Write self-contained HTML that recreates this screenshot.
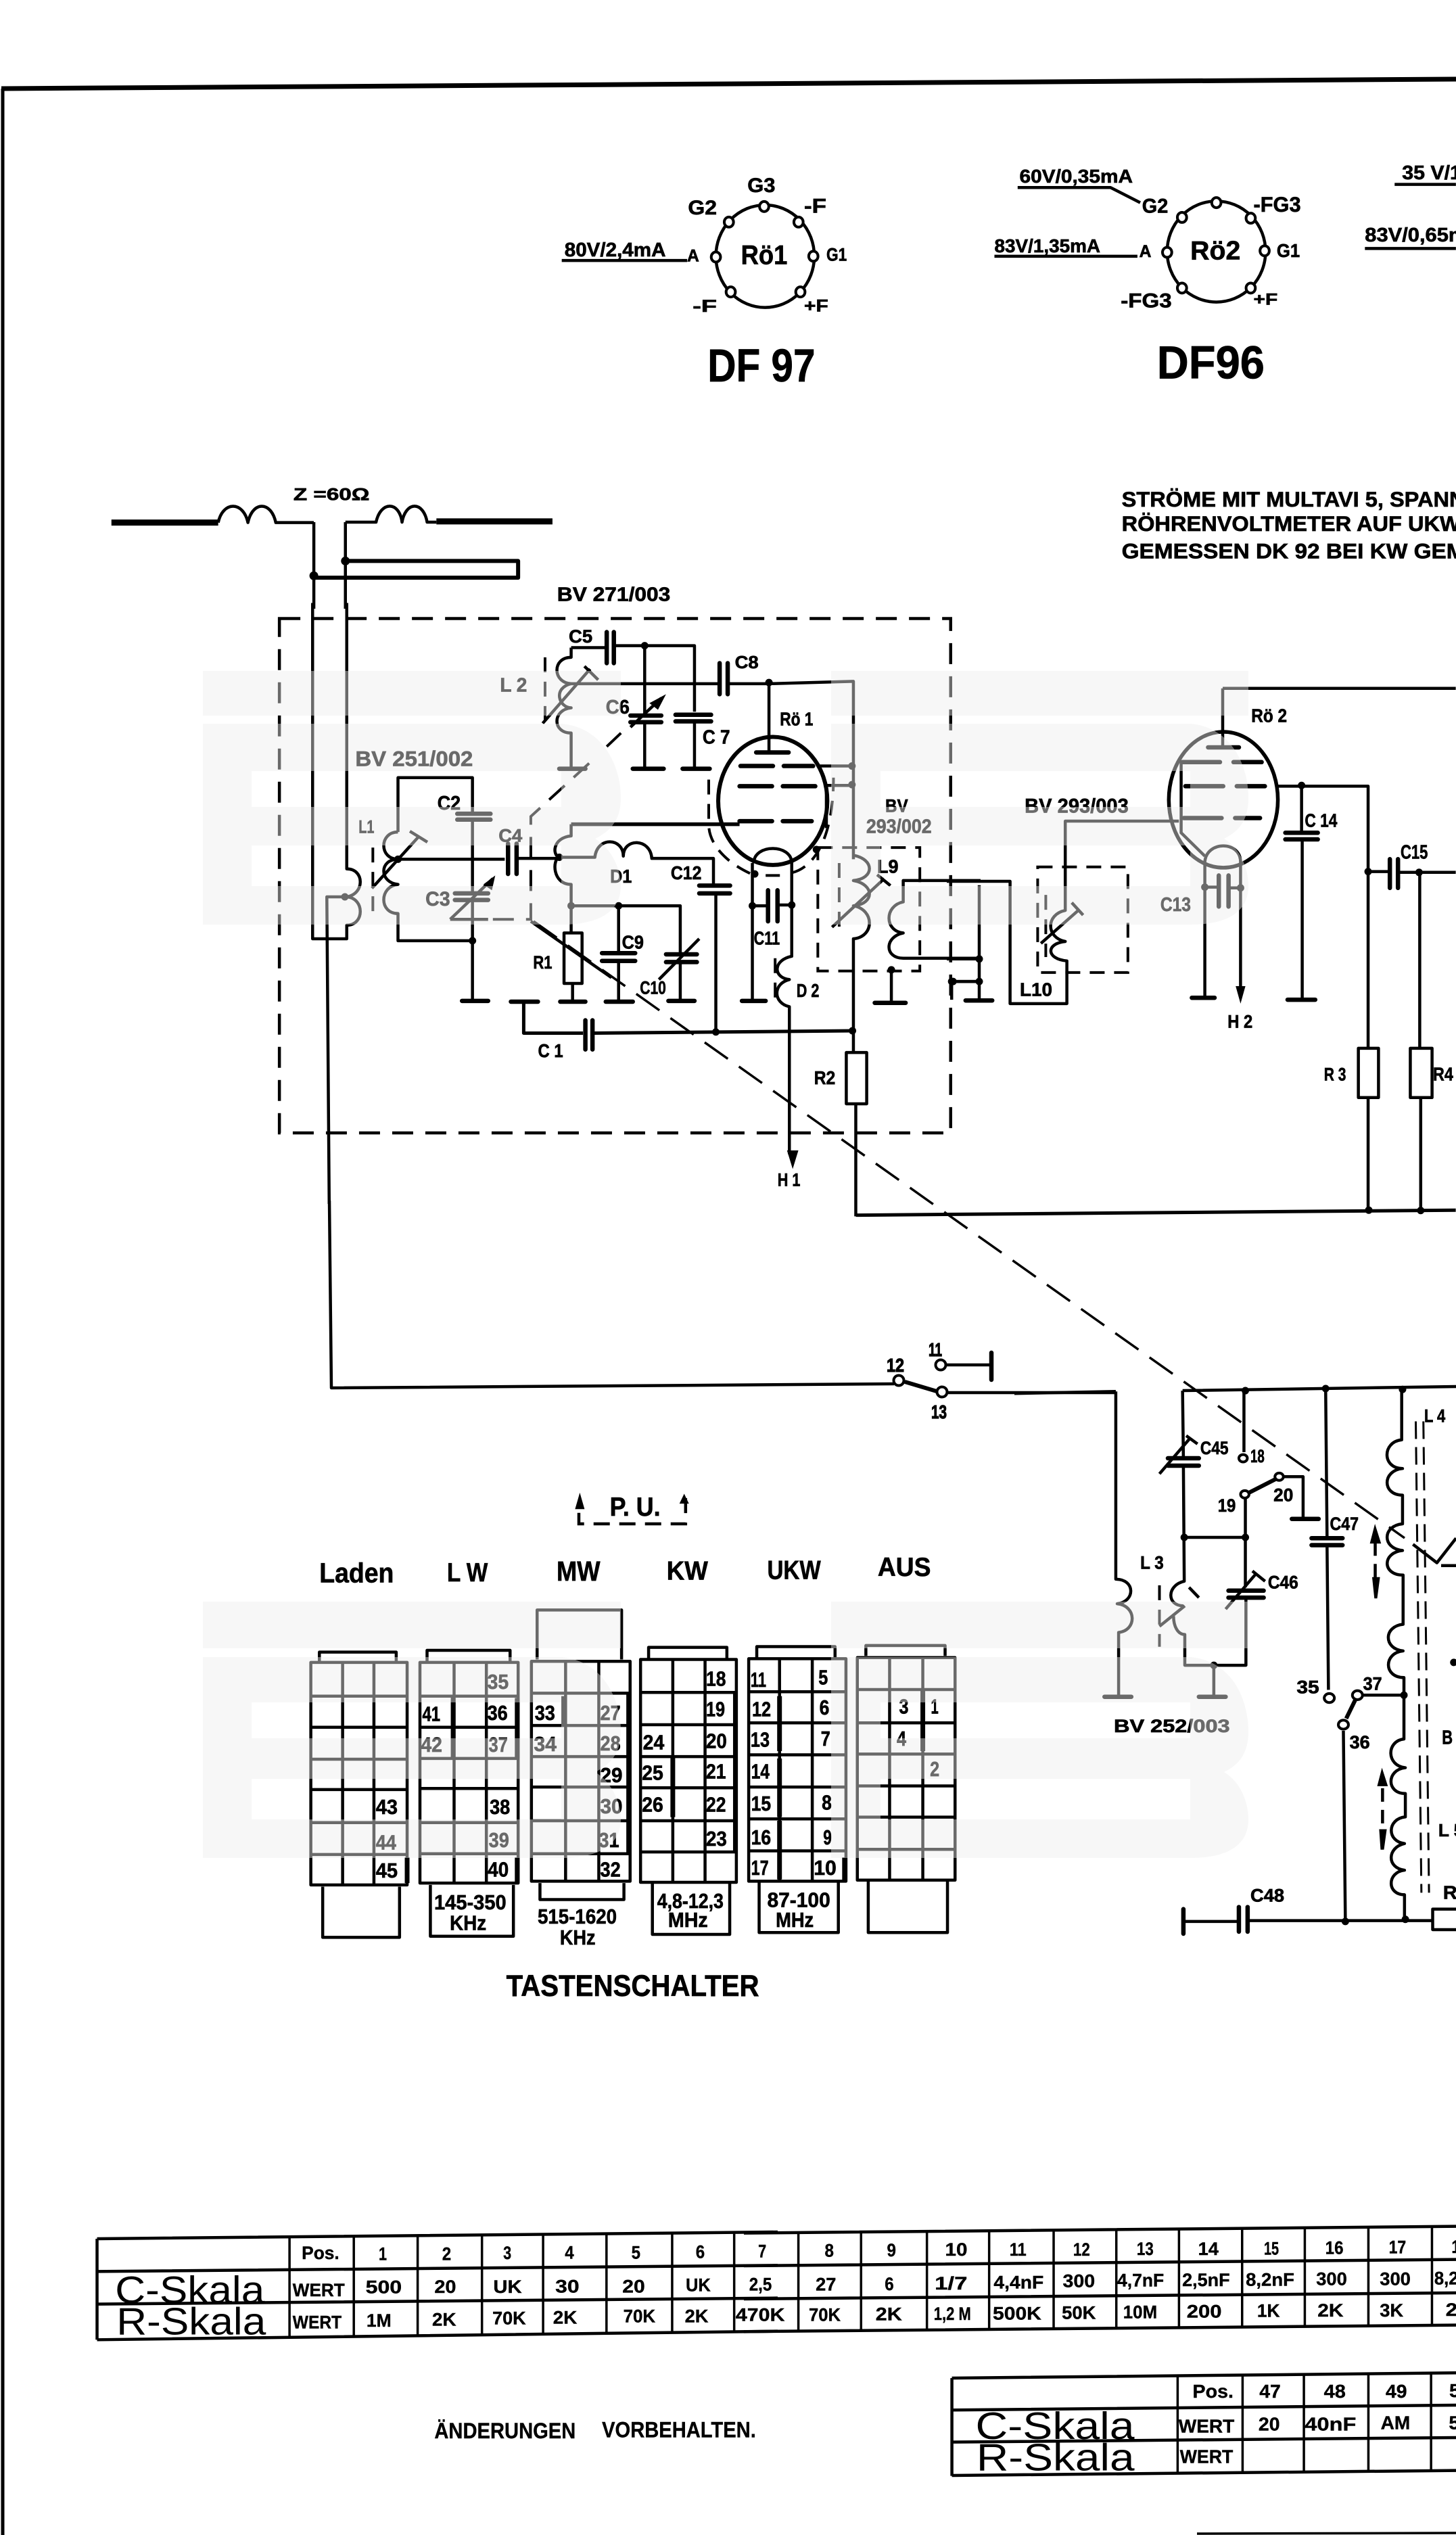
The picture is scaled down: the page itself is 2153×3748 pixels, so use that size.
<!DOCTYPE html>
<html><head><meta charset="utf-8"><title>Schaltbild</title>
<style>
html,body{margin:0;padding:0;background:#fff}
svg{display:block;font-family:"Liberation Sans",sans-serif;font-weight:bold;fill:#000}
text{stroke:#000;stroke-width:1.2}
text.r{stroke:none}
path,rect,ellipse,line{vector-effect:non-scaling-stroke}
.l{fill:none;stroke:#000;stroke-width:4.5;stroke-linejoin:round}
.n{fill:none;stroke:#000;stroke-width:3.5}
.k{fill:none;stroke:#000;stroke-width:9;stroke-linejoin:round}
.p{fill:none;stroke:#000;stroke-width:6.5;stroke-linecap:round}
.d{fill:none;stroke:#000;stroke-width:4.5;stroke-dasharray:31 18}
.e{fill:none;stroke:#000;stroke-width:4;stroke-dasharray:22 14}
.s{fill:none;stroke:#000;stroke-width:3;stroke-dasharray:26 12}
.o{fill:none;stroke:#000;stroke-width:13;stroke-linecap:round}
.c{fill:#fff;stroke:#000;stroke-width:4}
.f{fill:#000;stroke:none}
.r{font-weight:normal}
</style></head><body>
<svg xmlns="http://www.w3.org/2000/svg" width="2153" height="3748" viewBox="0 0 2153 3748">
<rect width="2153" height="3748" fill="#fff"/>

<!-- page frame -->
<path class="k" d="M2 131L2153 117" style="stroke-width:7"/>
<path class="l" d="M4 131V3748" style="stroke-width:5"/>
<path class="n" d="M1770 3746L2153 3745"/>

<!-- long dashed tuning link -->
<path class="l" style="stroke-dasharray:42 20;stroke-width:3.5" d="M789 1362L2077 2274"/>

<!-- heading zone -->
<g transform="scale(1.373,.574)" style="stroke-width:.7">
<ellipse class="l" cx="824" cy="660" rx="53" ry="132"/>
<ellipse class="l" cx="1310" cy="648" rx="53" ry="130"/>
<g class="c">
<ellipse cx="823" cy="532" rx="5" ry="13"/><ellipse cx="860" cy="572" rx="5" ry="13"/><ellipse cx="876" cy="660" rx="5" ry="13"/><ellipse cx="862" cy="752" rx="5" ry="13"/><ellipse cx="787" cy="752" rx="5" ry="13"/><ellipse cx="771" cy="662" rx="5" ry="13"/><ellipse cx="785" cy="572" rx="5" ry="13"/>
<ellipse cx="1310" cy="522" rx="5" ry="13"/><ellipse cx="1347" cy="562" rx="5" ry="13"/><ellipse cx="1362" cy="646" rx="5" ry="13"/><ellipse cx="1347" cy="742" rx="5" ry="13"/><ellipse cx="1273" cy="742" rx="5" ry="13"/><ellipse cx="1257" cy="650" rx="5" ry="13"/><ellipse cx="1273" cy="560" rx="5" ry="13"/>
</g>
<path class="l" d="M605 671H740M1096 483H1196L1228 522M1071 660H1225M1502 475H1568M1470 640H1568"/>
<path class="k" d="M120 1346H235M470 1343H595"/>
<path class="l" d="M235 1346C240 1290 262 1290 267 1346C272 1290 292 1290 297 1346H338M372 1345H405C410 1290 430 1290 433 1345C437 1290 456 1290 460 1345H470"/>
<path class="l" d="M338 1345V1568M372 1345V1568"/>
<path class="k" d="M372 1445H558V1488H338" style="stroke-width:6"/>
<path class="o" d="M372 1445h.01M338 1483h.01"/>
<text x="805" y="495" font-size="51" textLength="30" lengthAdjust="spacingAndGlyphs">G3</text>
<text x="741" y="552" font-size="51" textLength="31" lengthAdjust="spacingAndGlyphs">G2</text>
<text x="866" y="548" font-size="51" textLength="24" lengthAdjust="spacingAndGlyphs">-F</text>
<text x="890" y="672" font-size="46" textLength="22" lengthAdjust="spacingAndGlyphs">G1</text>
<text x="740" y="673" font-size="44" textLength="13" lengthAdjust="spacingAndGlyphs">A</text>
<text x="746" y="803" font-size="44" textLength="26" lengthAdjust="spacingAndGlyphs">-F</text>
<text x="866" y="802" font-size="44" textLength="26" lengthAdjust="spacingAndGlyphs">+F</text>
<text x="798" y="680" font-size="70" textLength="50" lengthAdjust="spacingAndGlyphs">Rö1</text>
<text x="608" y="660" font-size="50" textLength="109" lengthAdjust="spacingAndGlyphs">80V/2,4mA</text>
<text x="762" y="983" font-size="120" textLength="116" lengthAdjust="spacingAndGlyphs">DF 97</text>
<text x="1350" y="545" font-size="55" textLength="51" lengthAdjust="spacingAndGlyphs">-FG3</text>
<text x="1230" y="548" font-size="52" textLength="28" lengthAdjust="spacingAndGlyphs">G2</text>
<text x="1375" y="662" font-size="48" textLength="25" lengthAdjust="spacingAndGlyphs">G1</text>
<text x="1227" y="662" font-size="44" textLength="13" lengthAdjust="spacingAndGlyphs">A</text>
<text x="1207" y="792" font-size="51" textLength="55" lengthAdjust="spacingAndGlyphs">-FG3</text>
<text x="1350" y="785" font-size="42" textLength="26" lengthAdjust="spacingAndGlyphs">+F</text>
<text x="1282" y="668" font-size="68" textLength="54" lengthAdjust="spacingAndGlyphs">Rö2</text>
<text x="1098" y="470" font-size="48" textLength="122" lengthAdjust="spacingAndGlyphs">60V/0,35mA</text>
<text x="1071" y="650" font-size="48" textLength="114" lengthAdjust="spacingAndGlyphs">83V/1,35mA</text>
<text x="1246" y="975" font-size="120" textLength="116" lengthAdjust="spacingAndGlyphs">DF96</text>
<text x="1510" y="462" font-size="50" textLength="70" lengthAdjust="spacingAndGlyphs">35 V/1,</text>
<text x="1470" y="622" font-size="50" textLength="110" lengthAdjust="spacingAndGlyphs">83V/0,65m</text>
<text x="1208" y="1305" font-size="55" textLength="370" lengthAdjust="spacingAndGlyphs">STRÖME  MIT  MULTAVI  5,  SPANN</text>
<text x="1208" y="1368" font-size="55" textLength="365" lengthAdjust="spacingAndGlyphs">RÖHRENVOLTMETER   AUF   UKW</text>
<text x="1208" y="1438" font-size="55" textLength="370" lengthAdjust="spacingAndGlyphs">GEMESSEN   DK 92   BEI   KW   GEM</text>
<text x="316" y="1288" font-size="44" textLength="82" lengthAdjust="spacingAndGlyphs">Z =60Ω</text>
<text x="600" y="1548" font-size="50" textLength="122" lengthAdjust="spacingAndGlyphs">BV  271/003</text>
</g>

<!-- HF stage -->
<g transform="translate(350,880) scale(.7015,.574)">
<path class="d" d="M90 60H1505V1385H90Z"/>
<path class="l" d="M160 20V885H232V850C270 850 270 780 232 777C270 770 270 705 232 705V20"/>
<path class="l" d="M230 777H190L195 1568"/>
<path class="l" d="M340 610V470H497V563M497 580V768M497 788V890H340V820C300 820 300 750 340 745C300 740 300 680 340 680C300 680 300 610 340 610"/>
<path class="l" d="M340 680H565M590 678H680"/>
<path class="l" d="M497 890V1045"/>
<path class="l" d="M285 755L385 620M365 608L402 636"/>
<path class="e" d="M287 650V820M650 160V330"/>
<path class="p" d="M465 563H535M465 578H535M460 768H530M460 785H530M475 1045H530M572 640V718M590 640V718"/>
<path class="l" d="M450 835L540 730M450 835H530"/>
<path class="f" d="M545 722L520 745L538 760Z"/>
<path class="d" d="M540 835H620V570L750 425M780 390L810 355" style="stroke-width:4"/>
<path class="l" d="M620 840L790 985"/>
<path class="l" d="M705 135H780M795 130H965V300M965 325V447M860 130V310M860 330V447"/>
<path class="l" d="M705 135V160C665 160 665 225 705 228C665 240 680 290 705 290C665 295 665 355 705 355V447"/>
<path class="l" d="M645 330L745 190M733 183L762 218"/>
<path class="p" d="M680 447H735M780 95V175M795 95V175M830 327H895M830 310H895M835 447H900M925 308H1000M925 325H1000M940 447H997"/>
<path class="l" d="M830 340L895 265"/>
<path class="f" d="M905 255L870 278L888 295Z"/>
<path class="l" d="M705 228H1015M1036 228H1122L1300 222V440M1300 440V680"/>
<path class="p" d="M1018 175V255M1035 175V255"/>
<ellipse class="k" style="stroke-width:6" cx="1130" cy="530" rx="115" ry="165"/>
<path class="l" d="M1122 225V405"/>
<path class="p" style="stroke-dasharray:48 16" d="M1095 405H1165M1062 440H1215M1060 492H1225M1060 582H1212"/>
<path class="l" d="M1225 440H1300M1245 490H1300M1243 490V600"/>
<path class="k" style="stroke-width:5.5" d="M705 590H1060"/>
<path class="e" d="M995 475V590C995 640 1030 690 1092 722M1115 722H1145M1170 715C1220 700 1258 620 1258 470"/>
<path class="l" d="M1090 690C1090 640 1170 640 1170 690V930C1130 940 1130 985 1165 990C1130 1000 1130 1050 1165 1060V1440"/>
<path class="e" d="M1135 935V1055"/>
<path class="l" d="M1087 690V1045M1087 800H1120M1140 798H1170"/>
<path class="p" d="M1120 760V840M1140 760V840M1065 1045H1115"/>
<path class="f" d="M1160 1430H1184L1172 1478Z"/>
<path class="l" d="M705 590V620C665 625 665 670 680 675C665 680 665 745 705 745V870"/>
<path class="l" d="M680 675H755C760 620 815 625 815 672C815 625 872 625 875 678H1005V745M1010 770V1125"/>
<path class="p" d="M975 748H1040M975 768H1040"/>
<path class="l" d="M705 800H935V925M935 945V1045M805 800V920M805 945V1045M708 1000V1045"/>
<rect class="l" x="690" y="870" width="38" height="130"/>
<path class="p" d="M770 922H840M770 942H840M905 925H970M905 945H970M910 1045H965M778 1047H835M682 1047H735M578 1047H635"/>
<path class="l" d="M890 990L975 885"/>
<path class="k" style="stroke-width:5" d="M605 1047V1128H730M750 1128L1300 1122"/>
<path class="p" d="M735 1095V1170M750 1095V1170"/>
<rect class="l" x="1285" y="1178" width="43" height="132"/>
<path class="l" d="M1300 1122V1178M1305 1310V1600"/>
<path class="l" d="M1300 670C1345 680 1345 730 1300 735C1345 745 1345 795 1300 800C1345 810 1345 880 1300 885V1122"/>
<path class="l" d="M1255 855L1365 730M1350 720L1378 748"/>
<path class="e" d="M1270 690V860"/>
<path class="e" d="M1225 650H1440V968H1225Z"/>
<path class="l" d="M1568 735H1405V790C1365 800 1365 865 1405 870C1365 880 1365 935 1405 935H1568"/>
<path class="l" d="M1380 965V1050M1510 995H1568"/>
<path class="p" d="M1345 1050H1410"/>
<path class="o" d="M228 777h.01M340 680h.01M497 890h.01M860 130h.01M1122 225h.01M1297 440h.01M1297 488h.01M680 675h.01M705 800h.01M805 800h.01M1092 718h.01M1087 800h.01M1170 798h.01M1010 1125h.01M1298 1122h.01M1380 965h.01M1510 995h.01M1222 655h.01" style="stroke-width:11"/>
<text x="250" y="440" font-size="55" textLength="248" lengthAdjust="spacingAndGlyphs">BV 251/002</text>
<text x="555" y="248" font-size="50" textLength="57" lengthAdjust="spacingAndGlyphs">L 2</text>
<text x="700" y="122" font-size="47" textLength="50" lengthAdjust="spacingAndGlyphs">C5</text>
<text x="1050" y="188" font-size="45" textLength="50" lengthAdjust="spacingAndGlyphs">C8</text>
<text x="778" y="305" font-size="50" textLength="50" lengthAdjust="spacingAndGlyphs">C6</text>
<text x="982" y="382" font-size="50" textLength="58" lengthAdjust="spacingAndGlyphs">C 7</text>
<text x="1145" y="335" font-size="48" textLength="70" lengthAdjust="spacingAndGlyphs">Rö 1</text>
<text x="423" y="552" font-size="50" textLength="49" lengthAdjust="spacingAndGlyphs">C2</text>
<text x="257" y="612" font-size="47" textLength="33" lengthAdjust="spacingAndGlyphs">L1</text>
<text x="552" y="635" font-size="47" textLength="50" lengthAdjust="spacingAndGlyphs">C4</text>
<text x="398" y="800" font-size="52" textLength="52" lengthAdjust="spacingAndGlyphs">C3</text>
<text x="787" y="740" font-size="48" textLength="46" lengthAdjust="spacingAndGlyphs">D1</text>
<text x="915" y="732" font-size="48" textLength="65" lengthAdjust="spacingAndGlyphs">C12</text>
<text x="812" y="910" font-size="48" textLength="46" lengthAdjust="spacingAndGlyphs">C9</text>
<text x="850" y="1027" font-size="47" textLength="55" lengthAdjust="spacingAndGlyphs">C10</text>
<text x="1090" y="900" font-size="48" textLength="55" lengthAdjust="spacingAndGlyphs">C11</text>
<text x="1180" y="1035" font-size="48" textLength="48" lengthAdjust="spacingAndGlyphs">D 2</text>
<text x="625" y="962" font-size="47" textLength="40" lengthAdjust="spacingAndGlyphs">R1</text>
<text x="635" y="1190" font-size="48" textLength="53" lengthAdjust="spacingAndGlyphs">C 1</text>
<text x="1217" y="1260" font-size="48" textLength="45" lengthAdjust="spacingAndGlyphs">R2</text>
<text x="1140" y="1522" font-size="47" textLength="48" lengthAdjust="spacingAndGlyphs">H 1</text>
<text x="1367" y="558" font-size="46" textLength="48" lengthAdjust="spacingAndGlyphs">BV</text>
<text x="1327" y="612" font-size="50" textLength="138" lengthAdjust="spacingAndGlyphs">293/002</text>
<text x="1350" y="715" font-size="48" textLength="45" lengthAdjust="spacingAndGlyphs">L9</text>
</g>

<!-- Rö2 stage -->
<g transform="translate(1400,950) scale(.48,.574)">
<path class="l" d="M0 615H195V930H370V820C305 815 305 775 365 770C305 760 305 700 365 690V460H715"/>
<path class="l" d="M100 625V920M0 815H100M15 873H100M15 873V920"/>
<path class="p" d="M58 922H140"/>
<path class="e" d="M280 578H558V850H280Z"/>
<path class="e" d="M305 650V810"/>
<path class="l" d="M290 775L405 690M385 670L420 702"/>
<ellipse class="k" style="stroke-width:5.5" cx="852" cy="405" rx="168" ry="175"/>
<path class="l" d="M850 118V270M850 118H1568"/>
<path class="p" style="stroke-dasharray:56 20" d="M805 270H900M725 308H970M735 370H980M730 452H965"/>
<path class="l" d="M722 305V490L795 550"/>
<path class="l" d="M1020 370H1298V1045M1298 1172V1465M1093 368V490M1095 507V920"/>
<path class="p" d="M1043 490H1143M1043 507H1143M1050 920H1135M755 915H825M1365 558V632M1390 558V632M838 600V680M868 600V680"/>
<rect class="l" x="1268" y="1045" width="62" height="127"/>
<rect class="l" x="1428" y="1045" width="67" height="127"/>
<path class="l" d="M1298 590H1360M1392 592H1568M1457 592V1045M1460 1172V1465"/>
<path class="k" style="stroke-width:5" d="M-280 1475L1568 1462"/>
<path class="l" d="M795 565V915M795 565C800 510 905 510 905 565V890M795 630H838M868 632H905"/>
<path class="f" d="M890 885H920L905 930Z"/>
<path class="o" style="stroke-width:11" d="M1093 368h.01M1298 590h.01M1455 592h.01M1300 1462h.01M1460 1463h.01M795 630h.01M905 632h.01M100 815h.01M100 873h.01M15 873h.01"/>
<text x="938" y="205" font-size="48" textLength="110" lengthAdjust="spacingAndGlyphs">Rö 2</text>
<text x="240" y="438" font-size="52" textLength="320" lengthAdjust="spacingAndGlyphs">BV 293/003</text>
<text x="1103" y="475" font-size="48" textLength="100" lengthAdjust="spacingAndGlyphs">C 14</text>
<text x="1398" y="557" font-size="50" textLength="84" lengthAdjust="spacingAndGlyphs">C15</text>
<text x="658" y="692" font-size="50" textLength="94" lengthAdjust="spacingAndGlyphs">C13</text>
<text x="225" y="910" font-size="48" textLength="100" lengthAdjust="spacingAndGlyphs">L10</text>
<text x="865" y="992" font-size="47" textLength="77" lengthAdjust="spacingAndGlyphs">H 2</text>
<text x="1162" y="1128" font-size="46" textLength="68" lengthAdjust="spacingAndGlyphs">R 3</text>
<text x="1498" y="1128" font-size="48" textLength="62" lengthAdjust="spacingAndGlyphs">R4</text>
</g>

<!-- switch 11/12/13 -->
<path class="l" d="M487 1775L490 2052L1322 2046M1400 2018H1466M1401 2059H1650"/>
<path class="p" d="M1466 2000V2040"/>
<path class="k" style="stroke-width:6" d="M1338 2043L1385 2057"/>
<circle class="c" cx="1329" cy="2041" r="7.5"/><circle class="c" cx="1393" cy="2058" r="7.5"/><circle class="c" cx="1391" cy="2018" r="7.5"/>
<text x="1373" y="2005" font-size="28" textLength="20" lengthAdjust="spacingAndGlyphs">11</text>
<text x="1311" y="2028" font-size="28" textLength="26" lengthAdjust="spacingAndGlyphs">12</text>
<text x="1377" y="2097" font-size="28" textLength="23" lengthAdjust="spacingAndGlyphs">13</text>

<!-- oscillator / IF stage -->
<g transform="translate(1500,1950) scale(.4165,.606)">
<path class="l" d="M360 177V635C430 635 430 690 365 695C435 700 435 760 370 765V920M0 182L360 177"/>
<path class="p" d="M320 922H415M655 922H750"/>
<path class="l" d="M597 175L1568 165M597 175L600 340M600 358L603 640C540 650 540 700 600 700M565 725C565 750 580 770 605 770V845H822V680M708 845V920"/>
<path class="l" d="M515 750L605 700M620 655L655 680M515 378L625 290M610 285L650 305M750 708L860 620M845 615L890 640"/>
<path class="e" d="M515 650V800"/>
<path class="p" d="M545 340H655M545 358H655M760 663H885M760 680H885M985 488H1080M1055 535H1165M1055 552H1165"/>
<path class="l" d="M603 533H820M820 533V430M820 533V655M815 175V325M940 385H1025V488"/>
<path class="k" style="stroke-width:6" d="M830 425L930 390M1210 930L1178 975"/>
<path class="l" d="M1105 170L1110 530M1110 552L1115 905"/>
<path class="l" d="M1375 172V295C1305 300 1305 365 1378 365C1305 370 1305 430 1378 430V500C1305 505 1305 560 1378 565C1305 570 1305 625 1380 625V745C1310 750 1310 805 1380 810C1310 815 1310 875 1383 875V1025C1320 1030 1320 1090 1388 1095C1320 1100 1320 1158 1388 1158V1215C1322 1220 1322 1275 1385 1280C1322 1290 1322 1340 1385 1345C1322 1350 1322 1405 1385 1405V1465"/>
<path class="l" d="M1383 918H1235M1168 1005L1175 1470"/>
<path class="s" d="M1425 250L1445 1400M1452 250L1472 1400"/>
<path class="l" d="M600 1470H790M830 1468H1485"/>
<path class="p" d="M600 1440V1500M797 1435V1495M828 1435V1495"/>
<path class="l" d="M1415 550L1500 595L1568 535M1515 602H1568"/>
<path class="k" style="stroke-width:4.5;stroke-dasharray:20 12" d="M1281 545V640M1307 1145V1245"/>
<path class="f" d="M1280 500L1262 548H1302ZM1270 630H1298L1288 682H1278ZM1305 1095L1288 1140H1326ZM1295 1245H1322L1312 1295H1300Z"/>
<rect class="l" x="1485" y="1440" width="120" height="50"/>
<path class="o" style="stroke-width:11" d="M820 175h.01M1105 170h.01M1378 172h.01M603 533h.01M820 533h.01M708 845h.01M1383 918h.01M1175 1470h.01M1388 1465h.01M1560 838h.01"/>
<g class="c">
<ellipse cx="812" cy="340" rx="15" ry="9"/><ellipse cx="818" cy="428" rx="15" ry="9"/><ellipse cx="940" cy="385" rx="15" ry="9"/><ellipse cx="1118" cy="925" rx="18" ry="11"/><ellipse cx="1218" cy="918" rx="18" ry="11"/><ellipse cx="1168" cy="990" rx="18" ry="11"/>
</g>
<text x="660" y="330" font-size="45" textLength="100" lengthAdjust="spacingAndGlyphs">C45</text>
<text x="838" y="350" font-size="45" textLength="50" lengthAdjust="spacingAndGlyphs">18</text>
<text x="722" y="470" font-size="45" textLength="64" lengthAdjust="spacingAndGlyphs">19</text>
<text x="920" y="445" font-size="45" textLength="70" lengthAdjust="spacingAndGlyphs">20</text>
<text x="1120" y="515" font-size="45" textLength="102" lengthAdjust="spacingAndGlyphs">C47</text>
<text x="447" y="610" font-size="45" textLength="83" lengthAdjust="spacingAndGlyphs">L 3</text>
<text x="900" y="658" font-size="45" textLength="108" lengthAdjust="spacingAndGlyphs">C46</text>
<text x="1002" y="913" font-size="45" textLength="80" lengthAdjust="spacingAndGlyphs">35</text>
<text x="1238" y="905" font-size="45" textLength="67" lengthAdjust="spacingAndGlyphs">37</text>
<text x="1190" y="1048" font-size="45" textLength="72" lengthAdjust="spacingAndGlyphs">36</text>
<text x="353" y="1008" font-size="45" textLength="412" lengthAdjust="spacingAndGlyphs">BV 252/003</text>
<text x="838" y="1422" font-size="45" textLength="120" lengthAdjust="spacingAndGlyphs">C48</text>
<text x="1455" y="252" font-size="45" textLength="75" lengthAdjust="spacingAndGlyphs">L 4</text>
<text x="1518" y="1037" font-size="47" textLength="38" lengthAdjust="spacingAndGlyphs">B</text>
<text x="1505" y="1262" font-size="43" textLength="90" lengthAdjust="spacingAndGlyphs">L 5</text>
<text x="1522" y="1415" font-size="46" textLength="88" lengthAdjust="spacingAndGlyphs">R7</text>
</g>

<!-- key switch -->
<g transform="translate(400,2150) scale(.7015,.542)">
<path class="l" d="M85 568H288V1175H85ZM152 568V1175M218 568V1175M85 660H288M85 745H288M85 832H288M85 915H288M85 1005H288M85 1092H288M103 565V540H265V565M110 1180V1318H272V1180"/>
<path class="l" d="M315 568H522V1170H315ZM387 568V1170M455 568V1170M315 660H522M315 745H522M315 830H522M315 912H522M315 1005H522M315 1090H522M330 565V535H505V565M337 1175V1315H512V1175"/>
<path class="l" d="M550 565H758V1165H550ZM622 565V1165M692 565V1165M550 652H758M550 740H758M550 825H758M550 908H758M550 1000H758M550 1090H758M562 560V425H740V560M568 1170V1215H745V1170"/>
<path class="l" d="M780 560H982V1168H780ZM848 560V1168M916 560V1168M780 650H982M780 738H982M780 825H982M780 910H982M780 1000H982M780 1085H982M797 557V527H962V557M805 1170V1310H968V1170"/>
<path class="l" d="M1008 558H1213V1165H1008ZM1073 558V1165M1142 558V1165M1008 648H1213M1008 733H1213M1008 820H1213M1008 908H1213M1008 995H1213M1008 1082H1213M1025 555V525H1190V555M1030 1165V1305H1197V1165"/>
<path class="l" d="M1237 555H1443V1162H1237ZM1305 555V1162M1375 555V1162M1237 642H1443M1237 733H1443M1237 818H1443M1237 905H1443M1237 990H1443M1237 1078H1443M1255 550V522H1422V550M1260 1165V1305H1427V1165"/>
<path class="k" style="stroke-width:7" d="M385 660V830M520 665V830M520 1100V1170M618 660V740M755 650V1090M848 825V990M1073 660V810M1073 830V990M1073 1000V1160M1375 645V810M980 650V1085M1210 1100V1165M288 1100V1170"/>
<path class="d" style="stroke-dasharray:24 14" d="M650 160V190H875V120"/>
<path class="f" d="M652 105L642 150H662ZM872 108L862 135H882Z"/>
<text x="715" y="168" font-size="72" textLength="107" lengthAdjust="spacingAndGlyphs">P. U.</text>
<g>
<text x="103" y="350" font-size="76" textLength="157" lengthAdjust="spacingAndGlyphs">Laden</text>
<text x="372" y="347" font-size="72" textLength="86" lengthAdjust="spacingAndGlyphs">L W</text>
<text x="603" y="345" font-size="76" textLength="92" lengthAdjust="spacingAndGlyphs">MW</text>
<text x="835" y="342" font-size="72" textLength="87" lengthAdjust="spacingAndGlyphs">KW</text>
<text x="1047" y="340" font-size="72" textLength="113" lengthAdjust="spacingAndGlyphs">UKW</text>
<text x="1280" y="332" font-size="72" textLength="112" lengthAdjust="spacingAndGlyphs">AUS</text>
</g>
<text x="497" y="1478" font-size="82" textLength="533" lengthAdjust="spacingAndGlyphs">TASTENSCHALTER</text>
<g font-size="56">
<text x="345" y="1242" textLength="152" lengthAdjust="spacingAndGlyphs">145-350</text><text x="378" y="1298" textLength="77" lengthAdjust="spacingAndGlyphs">KHz</text>
<text x="563" y="1280" textLength="167" lengthAdjust="spacingAndGlyphs">515-1620</text><text x="610" y="1338" textLength="75" lengthAdjust="spacingAndGlyphs">KHz</text>
<text x="815" y="1238" textLength="140" lengthAdjust="spacingAndGlyphs">4,8-12,3</text><text x="838" y="1290" textLength="84" lengthAdjust="spacingAndGlyphs">MHz</text>
<text x="1047" y="1235" textLength="133" lengthAdjust="spacingAndGlyphs">87-100</text><text x="1065" y="1290" textLength="80" lengthAdjust="spacingAndGlyphs">MHz</text>
<text x="222" y="982" textLength="46" lengthAdjust="spacingAndGlyphs">43</text><text x="222" y="1078" textLength="43" lengthAdjust="spacingAndGlyphs">44</text><text x="222" y="1155" textLength="46" lengthAdjust="spacingAndGlyphs">45</text>
<text x="457" y="640" textLength="45" lengthAdjust="spacingAndGlyphs">35</text><text x="320" y="728" textLength="38" lengthAdjust="spacingAndGlyphs">41</text><text x="457" y="725" textLength="43" lengthAdjust="spacingAndGlyphs">36</text><text x="317" y="812" textLength="45" lengthAdjust="spacingAndGlyphs">42</text><text x="460" y="812" textLength="40" lengthAdjust="spacingAndGlyphs">37</text><text x="462" y="982" textLength="43" lengthAdjust="spacingAndGlyphs">38</text><text x="460" y="1072" textLength="43" lengthAdjust="spacingAndGlyphs">39</text><text x="458" y="1152" textLength="44" lengthAdjust="spacingAndGlyphs">40</text>
<text x="557" y="725" textLength="43" lengthAdjust="spacingAndGlyphs">33</text><text x="695" y="725" textLength="43" lengthAdjust="spacingAndGlyphs">27</text><text x="555" y="810" textLength="48" lengthAdjust="spacingAndGlyphs">34</text><text x="695" y="808" textLength="43" lengthAdjust="spacingAndGlyphs">28</text><text x="695" y="895" textLength="47" lengthAdjust="spacingAndGlyphs">29</text><text x="695" y="980" textLength="47" lengthAdjust="spacingAndGlyphs">30</text><text x="692" y="1072" textLength="43" lengthAdjust="spacingAndGlyphs">31</text><text x="695" y="1152" textLength="43" lengthAdjust="spacingAndGlyphs">32</text>
<text x="918" y="632" textLength="42" lengthAdjust="spacingAndGlyphs">18</text><text x="918" y="715" textLength="40" lengthAdjust="spacingAndGlyphs">19</text><text x="785" y="805" textLength="45" lengthAdjust="spacingAndGlyphs">24</text><text x="918" y="802" textLength="44" lengthAdjust="spacingAndGlyphs">20</text><text x="783" y="888" textLength="45" lengthAdjust="spacingAndGlyphs">25</text><text x="918" y="885" textLength="42" lengthAdjust="spacingAndGlyphs">21</text><text x="783" y="975" textLength="45" lengthAdjust="spacingAndGlyphs">26</text><text x="918" y="975" textLength="42" lengthAdjust="spacingAndGlyphs">22</text><text x="918" y="1068" textLength="44" lengthAdjust="spacingAndGlyphs">23</text>
<text x="1012" y="635" textLength="33" lengthAdjust="spacingAndGlyphs">11</text><text x="1155" y="628" textLength="20" lengthAdjust="spacingAndGlyphs">5</text><text x="1015" y="715" textLength="40" lengthAdjust="spacingAndGlyphs">12</text><text x="1157" y="710" textLength="21" lengthAdjust="spacingAndGlyphs">6</text><text x="1012" y="798" textLength="40" lengthAdjust="spacingAndGlyphs">13</text><text x="1160" y="795" textLength="20" lengthAdjust="spacingAndGlyphs">7</text><text x="1013" y="885" textLength="39" lengthAdjust="spacingAndGlyphs">14</text><text x="1013" y="972" textLength="42" lengthAdjust="spacingAndGlyphs">15</text><text x="1162" y="970" textLength="21" lengthAdjust="spacingAndGlyphs">8</text><text x="1013" y="1065" textLength="42" lengthAdjust="spacingAndGlyphs">16</text><text x="1165" y="1065" textLength="18" lengthAdjust="spacingAndGlyphs">9</text><text x="1013" y="1148" textLength="37" lengthAdjust="spacingAndGlyphs">17</text><text x="1145" y="1148" textLength="48" lengthAdjust="spacingAndGlyphs">10</text>
<text x="1325" y="708" textLength="20" lengthAdjust="spacingAndGlyphs">3</text><text x="1392" y="708" textLength="16" lengthAdjust="spacingAndGlyphs">1</text><text x="1320" y="795" textLength="20" lengthAdjust="spacingAndGlyphs">4</text><text x="1390" y="878" textLength="20" lengthAdjust="spacingAndGlyphs">2</text>
</g>
</g>

<!-- table 1, left -->
<g transform="translate(100,3250) scale(.6696,.3333)">
<path class="l" d="M65 180L1568 150M65 325L1568 298M65 470L1568 443M65 628L1568 590M65 180V628"/>
<path class="n" d="M490 175V615M632 172V612M773 170V610M915 168V606M1050 165V604M1190 163V600M1335 160V598M1472 158V596"/>
<g font-size="80">
<text x="517" y="270" textLength="83" lengthAdjust="spacingAndGlyphs">Pos.</text>
<text x="687" y="275" textLength="18" lengthAdjust="spacingAndGlyphs">1</text><text x="827" y="275" textLength="20" lengthAdjust="spacingAndGlyphs">2</text><text x="962" y="270" textLength="18" lengthAdjust="spacingAndGlyphs">3</text><text x="1098" y="268" textLength="20" lengthAdjust="spacingAndGlyphs">4</text><text x="1245" y="268" textLength="20" lengthAdjust="spacingAndGlyphs">5</text><text x="1387" y="265" textLength="20" lengthAdjust="spacingAndGlyphs">6</text><text x="1525" y="262" textLength="18" lengthAdjust="spacingAndGlyphs">7</text>
<text x="497" y="435" textLength="115" lengthAdjust="spacingAndGlyphs">WERT</text><text x="658" y="422" textLength="80" lengthAdjust="spacingAndGlyphs">500</text><text x="810" y="420" textLength="48" lengthAdjust="spacingAndGlyphs">20</text><text x="940" y="420" textLength="63" lengthAdjust="spacingAndGlyphs">UK</text><text x="1077" y="418" textLength="53" lengthAdjust="spacingAndGlyphs">30</text><text x="1225" y="418" textLength="50" lengthAdjust="spacingAndGlyphs">20</text><text x="1365" y="412" textLength="55" lengthAdjust="spacingAndGlyphs">UK</text><text x="1505" y="410" textLength="50" lengthAdjust="spacingAndGlyphs">2,5</text>
<text x="497" y="578" textLength="108" lengthAdjust="spacingAndGlyphs">WERT</text><text x="660" y="570" textLength="55" lengthAdjust="spacingAndGlyphs">1M</text><text x="805" y="565" textLength="53" lengthAdjust="spacingAndGlyphs">2K</text><text x="938" y="560" textLength="74" lengthAdjust="spacingAndGlyphs">70K</text><text x="1072" y="557" textLength="53" lengthAdjust="spacingAndGlyphs">2K</text><text x="1227" y="550" textLength="71" lengthAdjust="spacingAndGlyphs">70K</text><text x="1363" y="550" textLength="52" lengthAdjust="spacingAndGlyphs">2K</text>
</g>
<g class="r" font-size="170">
<text class="r" x="105" y="465" textLength="330" lengthAdjust="spacingAndGlyphs">C-Skala</text>
<text class="r" x="108" y="605" textLength="330" lengthAdjust="spacingAndGlyphs">R-Skala</text>
</g>
<g font-size="96"><text x="810" y="1065" textLength="312" lengthAdjust="spacingAndGlyphs">ÄNDERUNGEN</text><text x="1180" y="1060" textLength="340" lengthAdjust="spacingAndGlyphs">VORBEHALTEN.</text></g>
</g>

<!-- tables, right -->
<g transform="translate(1100,3250) scale(.6716,.3333)">
<path class="l" d="M0 155L1568 125M0 300L1568 272M0 447L1568 420M0 592L1568 563"/>
<path class="n" d="M120 155V590M258 152V588M403 150V584M540 148V580M682 146V578M820 144V575M958 142V572M1097 140V570M1235 138V568M1375 135V565M1515 132V562"/>
<g font-size="80">
<text x="178" y="260" textLength="20" lengthAdjust="spacingAndGlyphs">8</text><text x="315" y="258" textLength="20" lengthAdjust="spacingAndGlyphs">9</text><text x="443" y="255" textLength="49" lengthAdjust="spacingAndGlyphs">10</text><text x="585" y="255" textLength="37" lengthAdjust="spacingAndGlyphs">11</text><text x="725" y="255" textLength="37" lengthAdjust="spacingAndGlyphs">12</text><text x="865" y="252" textLength="37" lengthAdjust="spacingAndGlyphs">13</text><text x="1000" y="252" textLength="45" lengthAdjust="spacingAndGlyphs">14</text><text x="1145" y="250" textLength="33" lengthAdjust="spacingAndGlyphs">15</text><text x="1280" y="248" textLength="40" lengthAdjust="spacingAndGlyphs">16</text><text x="1420" y="245" textLength="38" lengthAdjust="spacingAndGlyphs">17</text><text x="1558" y="243" textLength="38" lengthAdjust="spacingAndGlyphs">18</text>
<text x="158" y="410" textLength="45" lengthAdjust="spacingAndGlyphs">27</text><text x="310" y="408" textLength="20" lengthAdjust="spacingAndGlyphs">6</text><text x="420" y="405" textLength="72" lengthAdjust="spacingAndGlyphs">1/7</text><text x="550" y="400" textLength="110" lengthAdjust="spacingAndGlyphs">4,4nF</text><text x="702" y="395" textLength="71" lengthAdjust="spacingAndGlyphs">300</text><text x="822" y="392" textLength="103" lengthAdjust="spacingAndGlyphs">4,7nF</text><text x="965" y="390" textLength="105" lengthAdjust="spacingAndGlyphs">2,5nF</text><text x="1105" y="388" textLength="107" lengthAdjust="spacingAndGlyphs">8,2nF</text><text x="1260" y="385" textLength="68" lengthAdjust="spacingAndGlyphs">300</text><text x="1400" y="385" textLength="68" lengthAdjust="spacingAndGlyphs">300</text><text x="1520" y="382" textLength="100" lengthAdjust="spacingAndGlyphs">8,2nF</text>
<text x="-18" y="545" textLength="108" lengthAdjust="spacingAndGlyphs">470K</text><text x="143" y="545" textLength="70" lengthAdjust="spacingAndGlyphs">70K</text><text x="290" y="542" textLength="58" lengthAdjust="spacingAndGlyphs">2K</text><text x="418" y="540" textLength="82" lengthAdjust="spacingAndGlyphs">1,2 M</text><text x="548" y="538" textLength="107" lengthAdjust="spacingAndGlyphs">500K</text><text x="700" y="535" textLength="75" lengthAdjust="spacingAndGlyphs">50K</text><text x="835" y="532" textLength="75" lengthAdjust="spacingAndGlyphs">10M</text><text x="975" y="530" textLength="77" lengthAdjust="spacingAndGlyphs">200</text><text x="1130" y="527" textLength="50" lengthAdjust="spacingAndGlyphs">1K</text><text x="1263" y="525" textLength="57" lengthAdjust="spacingAndGlyphs">2K</text><text x="1400" y="525" textLength="52" lengthAdjust="spacingAndGlyphs">3K</text><text x="1545" y="522" textLength="52" lengthAdjust="spacingAndGlyphs">20</text>
</g>
<path class="l" d="M458 798L1568 775M458 940L1568 918M458 1082L1568 1062M458 1230L1568 1208M458 798V1232"/>
<path class="n" d="M955 790V1225M1098 788V1222M1233 785V1220M1375 782V1218M1513 780V1212"/>
<g font-size="82">
<text x="988" y="885" textLength="90" lengthAdjust="spacingAndGlyphs">Pos.</text><text x="1135" y="885" textLength="47" lengthAdjust="spacingAndGlyphs">47</text><text x="1277" y="885" textLength="48" lengthAdjust="spacingAndGlyphs">48</text><text x="1413" y="885" textLength="47" lengthAdjust="spacingAndGlyphs">49</text><text x="1553" y="882" textLength="48" lengthAdjust="spacingAndGlyphs">50</text>
<text x="957" y="1040" textLength="123" lengthAdjust="spacingAndGlyphs">WERT</text><text x="1133" y="1030" textLength="47" lengthAdjust="spacingAndGlyphs">20</text><text x="1235" y="1030" textLength="113" lengthAdjust="spacingAndGlyphs">40nF</text><text x="1402" y="1025" textLength="65" lengthAdjust="spacingAndGlyphs">AM</text><text x="1552" y="1025" textLength="48" lengthAdjust="spacingAndGlyphs">50</text>
<text x="960" y="1175" textLength="117" lengthAdjust="spacingAndGlyphs">WERT</text>
</g>
<g class="r" font-size="170">
<text class="r" x="510" y="1068" textLength="350" lengthAdjust="spacingAndGlyphs">C-Skala</text>
<text class="r" x="512" y="1208" textLength="348" lengthAdjust="spacingAndGlyphs">R-Skala</text>
</g>
</g>

<!-- faint scan watermark -->
<g fill="#eee" fill-opacity=".447" fill-rule="evenodd">
<path d="M300 992H918V1058H300ZM1229 992H1846V1058H1229Z"/>
<path d="M300 1070H830C890 1075 918 1130 918 1180C918 1215 900 1230 880 1240C905 1255 918 1285 918 1310C918 1345 890 1367 830 1367H300ZM372 1140V1193H830V1140ZM372 1250V1310H830V1250Z"/>
<path d="M1229 1070H1760C1820 1075 1846 1130 1846 1180C1846 1215 1830 1230 1810 1240C1835 1255 1846 1285 1846 1310C1846 1345 1820 1367 1760 1367H1229ZM1302 1140V1193H1760V1140ZM1302 1250V1310H1760V1250Z"/>
<path d="M300 2368H918V2437H300ZM1229 2368H1846V2437H1229Z"/>
<path d="M300 2450H830C890 2455 918 2510 918 2560C918 2595 900 2610 880 2620C905 2635 918 2665 918 2690C918 2725 890 2747 830 2747H300ZM372 2517V2570H830V2517ZM372 2630V2690H830V2630Z"/>
<path d="M1229 2450H1760C1820 2455 1846 2510 1846 2560C1846 2595 1830 2610 1810 2620C1835 2635 1846 2665 1846 2690C1846 2725 1820 2747 1760 2747H1229ZM1302 2517V2570H1760V2517ZM1302 2630V2690H1760V2630Z"/>
</g>
</svg>
</body></html>
